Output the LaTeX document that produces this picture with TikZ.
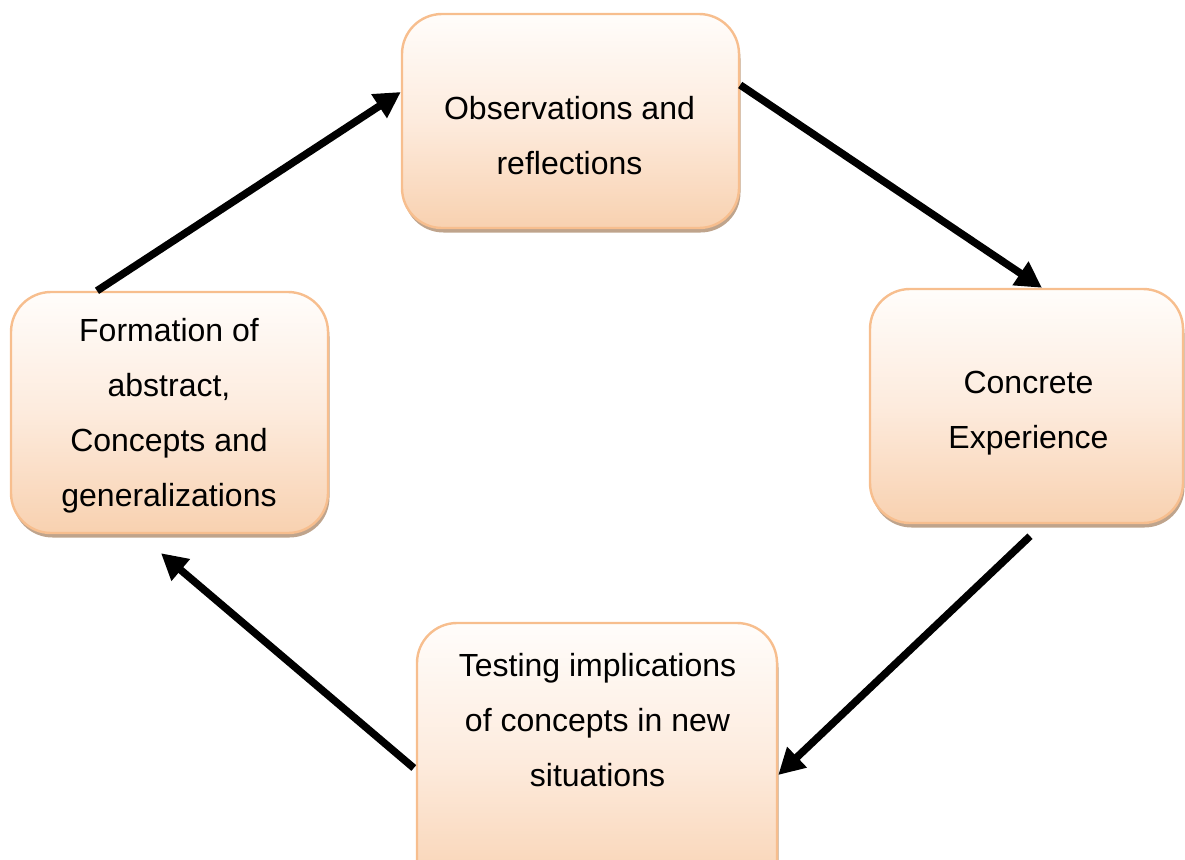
\documentclass[tikz,border=0pt]{standalone}
\usepackage{fontspec}
\setmainfont{Liberation Sans}
\usetikzlibrary{arrows.meta,shadows}
\definecolor{boxtop}{HTML}{FFFDFB}
\definecolor{boxmid}{HTML}{FDEBDD}
\definecolor{boxbot}{HTML}{F8D1B0}
\definecolor{boxline}{HTML}{F7BE8E}
\definecolor{boxshade}{HTML}{B89A80}
\tikzset{
  stage/.style={rectangle, rounded corners=40pt, inner sep=0pt,
    draw=boxline, line width=2.4pt,
    top color=boxtop, bottom color=boxbot, middle color=boxmid,
    drop shadow={shadow xshift=1.5pt, shadow yshift=-4.5pt, fill=boxshade, opacity=0.9}},
  stagetext/.style={align=center, inner sep=0pt, font=\fontsize{32}{55}\selectfont},
  flow/.style={line width=7.5pt, -{Triangle[length=26pt,width=27pt]}}
}
\begin{document}
\begin{tikzpicture}[x=1pt,y=-1pt]
\useasboundingbox (0,0) rectangle (1185,859);
\clip (0,0) rectangle (1185,859);

% the four stages of the cycle
\node[stage, minimum width=337pt, minimum height=214pt] (obs)  at (570.5,121) {};
\node[stage, minimum width=313pt, minimum height=234pt] (conc) at (1026.5,406) {};
\node[stage, minimum width=360pt, minimum height=277pt] (test) at (597,761.5) {};
\node[stage, minimum width=317pt, minimum height=241pt] (form) at (169.5,412.5) {};

\node[stagetext] (obstext)  at (569.5,136) {Observations and\\reflections};
\node[stagetext] (conctext) at (1028.5,413) {Concrete\\Experience};
\node[stagetext] (testtext) at (597.5,720) {Testing implications\\of concepts in new\\situations};
\node[stagetext] (formtext) at (169,416) {Formation of\\abstract,\\Concepts and\\generalizations};

% arrows running clockwise round the cycle
\draw[flow] ([xshift=-72.5pt]form.north) -- ([yshift=29pt]obs.west);
\draw[flow] ([yshift=36pt]obs.east) -- ([xshift=15.5pt]conc.north);
\draw[flow] ([xshift=3.5pt,yshift=-12pt]conc.south) -- ([yshift=-13.5pt]test.east);
\draw[flow] ([xshift=-2pt,yshift=-6.5pt]test.west) -- ([xshift=-8.5pt,yshift=-19pt]form.south);
\end{tikzpicture}
\end{document}
